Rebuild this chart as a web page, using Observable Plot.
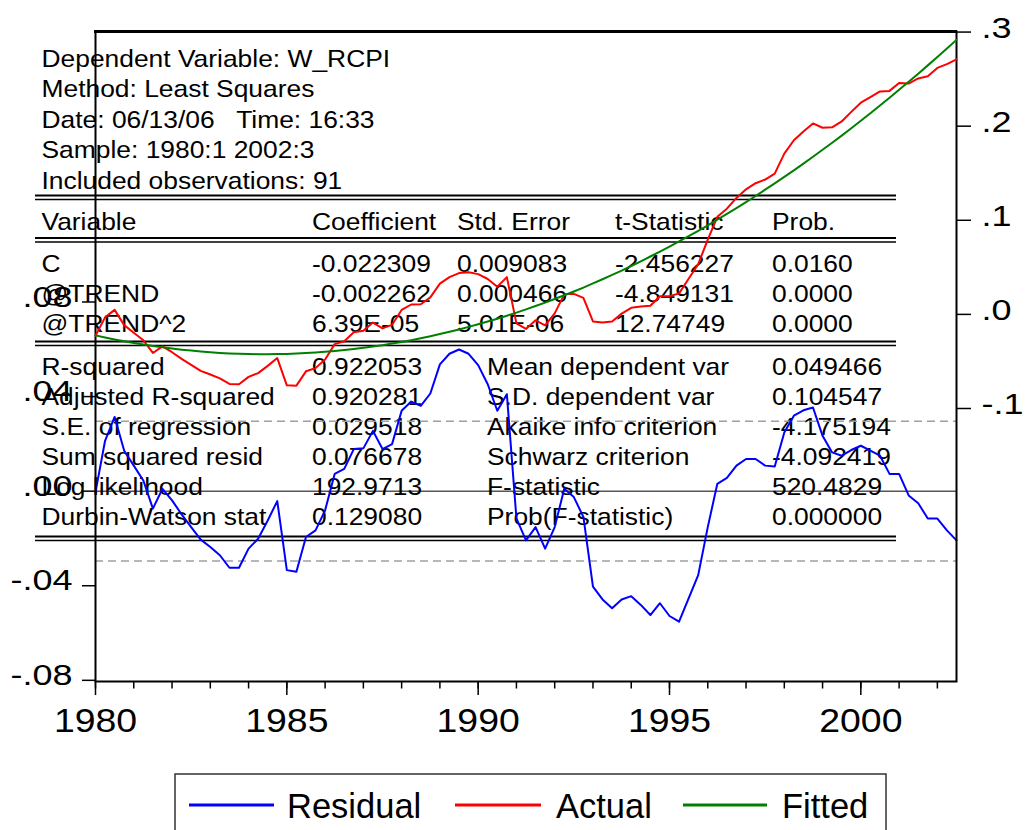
<!DOCTYPE html>
<html><head><meta charset="utf-8">
<script src="https://cdn.jsdelivr.net/npm/d3@7"></script>
<script src="https://cdn.jsdelivr.net/npm/@observablehq/plot@0.6"></script>
<style>
html,body{margin:0;padding:0;background:#fff;overflow:hidden;}
#wrap{position:relative;width:1029px;height:830px;overflow:hidden;font-family:"Liberation Sans",Arial,sans-serif;}
#wrap > svg{position:absolute;left:0;top:0;margin:0;}
</style></head><body><div id="wrap"></div>
<script>
// ---- data ----
const residual = [-0.0004,0.0213,0.0314,0.0171,0.0108,0.0045,-0.0074,0.0010,-0.0039,-0.0098,
-0.0152,-0.0205,-0.0236,-0.0271,-0.0324,-0.0324,-0.0243,-0.0201,-0.0124,-0.0042,
-0.0334,-0.0341,-0.0194,-0.0166,-0.0081,0.0073,0.0094,0.0178,0.0181,0.0255,
0.0178,0.0199,0.0340,0.0379,0.0361,0.0413,0.0536,0.0581,0.0599,0.0581,
0.0533,0.0452,0.0340,0.0410,-0.0115,-0.0208,-0.0152,-0.0243,-0.0152,0.0010,
-0.0025,-0.0109,-0.0404,-0.0458,-0.0495,-0.0458,-0.0444,-0.0481,-0.0524,-0.0474,
-0.0528,-0.0552,-0.0453,-0.0355,-0.0152,0.0031,0.0056,0.0108,0.0136,0.0136,
0.0108,0.0104,0.0248,0.0319,0.0342,0.0354,0.0234,0.0164,0.0150,0.0174,
0.0192,0.0171,0.0150,0.0073,0.0073,-0.0018,-0.0051,-0.0116,-0.0116,-0.0166,
-0.0208];
const actual = [-0.0227,-0.0032,0.0048,-0.0114,-0.0195,-0.0275,-0.0410,-0.0340,-0.0402,-0.0473,
-0.0537,-0.0600,-0.0639,-0.0680,-0.0739,-0.0743,-0.0664,-0.0624,-0.0547,-0.0464,
-0.0754,-0.0757,-0.0605,-0.0571,-0.0479,-0.0316,-0.0285,-0.0190,-0.0174,-0.0087,
-0.0149,-0.0111,0.0047,0.0105,0.0108,0.0181,0.0327,0.0396,0.0439,0.0448,
0.0428,0.0376,0.0294,0.0396,-0.0096,-0.0155,-0.0063,-0.0118,0.0011,0.0213,
0.0218,0.0176,-0.0075,-0.0085,-0.0076,0.0008,0.0070,0.0083,0.0091,0.0193,
0.0192,0.0223,0.0378,0.0533,0.0795,0.1037,0.1123,0.1238,0.1329,0.1394,
0.1433,0.1496,0.1709,0.1850,0.1944,0.2029,0.1983,0.1988,0.2050,0.2152,
0.2249,0.2308,0.2369,0.2375,0.2459,0.2453,0.2507,0.2530,0.2619,0.2659,
0.2709];
const fitted = [-0.0223,-0.0245,-0.0266,-0.0285,-0.0303,-0.0320,-0.0336,-0.0350,-0.0363,-0.0375,
-0.0385,-0.0395,-0.0403,-0.0409,-0.0415,-0.0419,-0.0421,-0.0423,-0.0423,-0.0422,
-0.0420,-0.0416,-0.0411,-0.0405,-0.0398,-0.0389,-0.0379,-0.0368,-0.0355,-0.0342,
-0.0327,-0.0310,-0.0293,-0.0274,-0.0253,-0.0232,-0.0209,-0.0185,-0.0160,-0.0133,
-0.0105,-0.0076,-0.0046,-0.0014,0.0019,0.0053,0.0089,0.0125,0.0163,0.0203,
0.0243,0.0285,0.0329,0.0373,0.0419,0.0466,0.0514,0.0564,0.0615,0.0667,
0.0720,0.0775,0.0831,0.0888,0.0947,0.1006,0.1067,0.1130,0.1193,0.1258,
0.1325,0.1392,0.1461,0.1531,0.1602,0.1675,0.1749,0.1824,0.1900,0.1978,
0.2057,0.2137,0.2219,0.2302,0.2386,0.2471,0.2558,0.2646,0.2735,0.2825,
0.2917];
const sampleStart = 1980;       // 1980:1, quarterly
const obsPerYear = 4;
const seRegression = 0.029518;
const residDomain = [-0.0805, 0.1944];
const levelDomain = [-0.3901, 0.3006];
const residTicks = [-0.08, -0.04, 0, 0.04, 0.08];
const levelTicks = [-0.1, 0, 0.1, 0.2, 0.3];
const yearTicks = [1980,1981,1982,1983,1984,1985,1986,1987,1988,1989,1990,1991,1992,1993,1994,1995,1996,1997,1998,1999,2000,2001,2002];
const labelYears = [1980, 1985, 1990, 1995, 2000];
const headerLines = ["Dependent Variable: W_RCPI","Method: Least Squares","Date: 06/13/06   Time: 16:33","Sample: 1980:1 2002:3","Included observations: 91"];
const colHeaders = ["Variable","Coefficient","Std. Error","t-Statistic","Prob."];
const variables = ["C","@TREND","@TREND^2"];
const coefficients = ["-0.022309","-0.002262","6.39E-05"];
const stdErrors = ["0.009083","0.000466","5.01E-06"];
const tStats = ["-2.456227","-4.849131","12.74749"];
const probs = ["0.0160","0.0000","0.0000"];
const statLabelsL = ["R-squared","Adjusted R-squared","S.E. of regression","Sum squared resid","Log likelihood","Durbin-Watson stat"];
const statValuesL = ["0.922053","0.920281","0.029518","0.076678","192.9713","0.129080"];
const statLabelsR = ["Mean dependent var","S.D. dependent var","Akaike info criterion","Schwarz criterion","F-statistic","Prob(F-statistic)"];
const statValuesR = ["0.049466","0.104547","-4.175194","-4.092419","520.4829","0.000000"];
const seriesNames = ["Residual","Actual","Fitted"];
const seriesColors = ["#0000ff","#ff0000","#008000"];

// ---- layout ----
const W = 1029, H = 740;
const M = {top: 31, right: 73, bottom: 59, left: 95};
const FONT = '"Liberation Sans", Arial, sans-serif';
const periods = residual.map((_, i) => sampleStart + i / obsPerYear);
const xDomain = [sampleStart, periods[periods.length - 1]];

const fmtRes = d => d === 0 ? ".00" : (d < 0 ? "-" : "") + Math.abs(d).toFixed(2).slice(1);
const fmtLvl = d => d === 0 ? ".0" : (d < 0 ? "-" : "") + Math.abs(d).toFixed(1).slice(1);

function stretch(root, selector, s) {
  root.querySelectorAll(selector).forEach(el => {
    const t = el.getAttribute("transform") || "";
    const x = +(el.getAttribute("x") || 0);
    el.setAttribute("transform", `${t} translate(${x},0) scale(${s},1) translate(${-x},0)`);
  });
}

const wrap = document.getElementById("wrap");

// ---- annotation layer: regression table + legend ----
const ann = d3.create("svg").attr("width", W).attr("height", 830)
  .attr("font-family", FONT).attr("fill", "#000");
function txt(x, y, s, size = 24, sx = 1.1) {
  ann.append("text").attr("transform", `translate(${x},${y}) scale(${sx},1)`)
    .attr("font-size", size).style("white-space", "pre").text(s);
}
function hline(x1, x2, y, w) {
  ann.append("line").attr("x1", x1).attr("x2", x2).attr("y1", y).attr("y2", y).attr("stroke", "#000").attr("stroke-width", w);
}
function dbl(y1, y2) { hline(35, 896, y1, 2); hline(35, 896, y2, 1.5); }
// top edge of the plot box
hline(M.left - 1, W - M.right + 1, M.top + 0.5, 3);
const c1 = 41.5, c2 = 312, c3 = 457, c3b = 487, c4 = 615, c5 = 772;
headerLines.forEach((s, i) => txt(c1, 66.5 + i * 30.5, s));
dbl(195.5, 199.5);
[c1, c2, c3, c4, c5].forEach((x, i) => txt(x, 230, colHeaders[i]));
dbl(238, 242);
variables.forEach((s, i) => {
  const y = 271.7 + i * 30.2;
  txt(c1, y, s); txt(c2, y, coefficients[i]); txt(c3, y, stdErrors[i]); txt(c4, y, tStats[i]); txt(c5, y, probs[i]);
});
dbl(341.5, 345.5);
statLabelsL.forEach((s, i) => {
  const y = 375 + i * 30;
  txt(c1, y, s); txt(c2, y, statValuesL[i]); txt(c3b, y, statLabelsR[i]); txt(c5, y, statValuesR[i]);
});
dbl(536.5, 540.5);
// legend
ann.append("rect").attr("x", 175).attr("y", 774).attr("width", 711).attr("height", 100)
  .attr("fill", "none").attr("stroke", "#333").attr("stroke-width", 1.5);
const legX = [[189, 274, 287], [455, 541, 556], [683, 767, 782]];
seriesNames.forEach((s, i) => {
  ann.append("line").attr("x1", legX[i][0]).attr("x2", legX[i][1]).attr("y1", 805).attr("y2", 805)
    .attr("stroke", seriesColors[i]).attr("stroke-width", 3);
  txt(legX[i][2], 817.5, s, 34.5, 1);
});
wrap.appendChild(ann.node());

// ---- residual plot (left axis) ----
const resData = periods.map((p, i) => ({p, v: residual[i]}));
const p1 = Plot.plot({
  width: W, height: H,
  marginTop: M.top, marginRight: M.right, marginBottom: M.bottom, marginLeft: M.left,
  style: {background: "transparent", fontFamily: FONT, color: "#000", overflow: "visible"},
  x: {domain: xDomain, axis: null},
  y: {domain: residDomain, axis: null},
  marks: [
    Plot.ruleY([-seRegression, seRegression], {stroke: "#a0a0a0", strokeWidth: 1.5, strokeDasharray: "8,5"}),
    Plot.ruleY([0], {stroke: "#000", strokeWidth: 1}),
    Plot.line(resData, {x: "p", y: "v", stroke: seriesColors[0], strokeWidth: 2}),
    Plot.axisY({anchor: "left", label: null, ticks: residTicks, tickSize: 13, tickFormat: () => "", strokeWidth: 1.5}),
    Plot.axisY({anchor: "left", label: null, ticks: residTicks, tickSize: 0, tickPadding: 23, tickFormat: fmtRes, fontSize: 30, dy: -5}),
    Plot.axisX({label: null, ticks: yearTicks, tickSize: 7.5, tickFormat: () => "", strokeWidth: 1.5}),
    Plot.axisX({label: null, ticks: labelYears, tickSize: 14, tickPadding: 12, tickFormat: d => String(d), fontSize: 34, strokeWidth: 1.5}),
    Plot.frame({stroke: "#000", strokeWidth: 2})
  ]
});
stretch(p1, 'g[aria-label="y-axis tick label"] text', 1.2);
stretch(p1, 'g[aria-label="x-axis tick label"] text', 1.1);
wrap.appendChild(p1);

// ---- actual / fitted plot (right axis) ----
const actData = periods.map((p, i) => ({p, v: actual[i]}));
const fitData = periods.map((p, i) => ({p, v: fitted[i]}));
const p2 = Plot.plot({
  width: W, height: H,
  marginTop: M.top, marginRight: M.right, marginBottom: M.bottom, marginLeft: M.left,
  style: {background: "transparent", fontFamily: FONT, color: "#000", overflow: "visible"},
  x: {domain: xDomain, axis: null},
  y: {domain: levelDomain, axis: null},
  marks: [
    Plot.line(actData, {x: "p", y: "v", stroke: seriesColors[1], strokeWidth: 2}),
    Plot.line(fitData, {x: "p", y: "v", stroke: seriesColors[2], strokeWidth: 2}),
    Plot.axisY({anchor: "right", label: null, ticks: levelTicks, tickSize: 14, tickFormat: () => "", strokeWidth: 1.5}),
    Plot.axisY({anchor: "right", label: null, ticks: levelTicks, tickSize: 0, tickPadding: 25, tickFormat: fmtLvl, fontSize: 30, dy: -4})
  ]
});
stretch(p2, 'g[aria-label="y-axis tick label"] text', 1.2);
wrap.appendChild(p2);
</script></body></html>
